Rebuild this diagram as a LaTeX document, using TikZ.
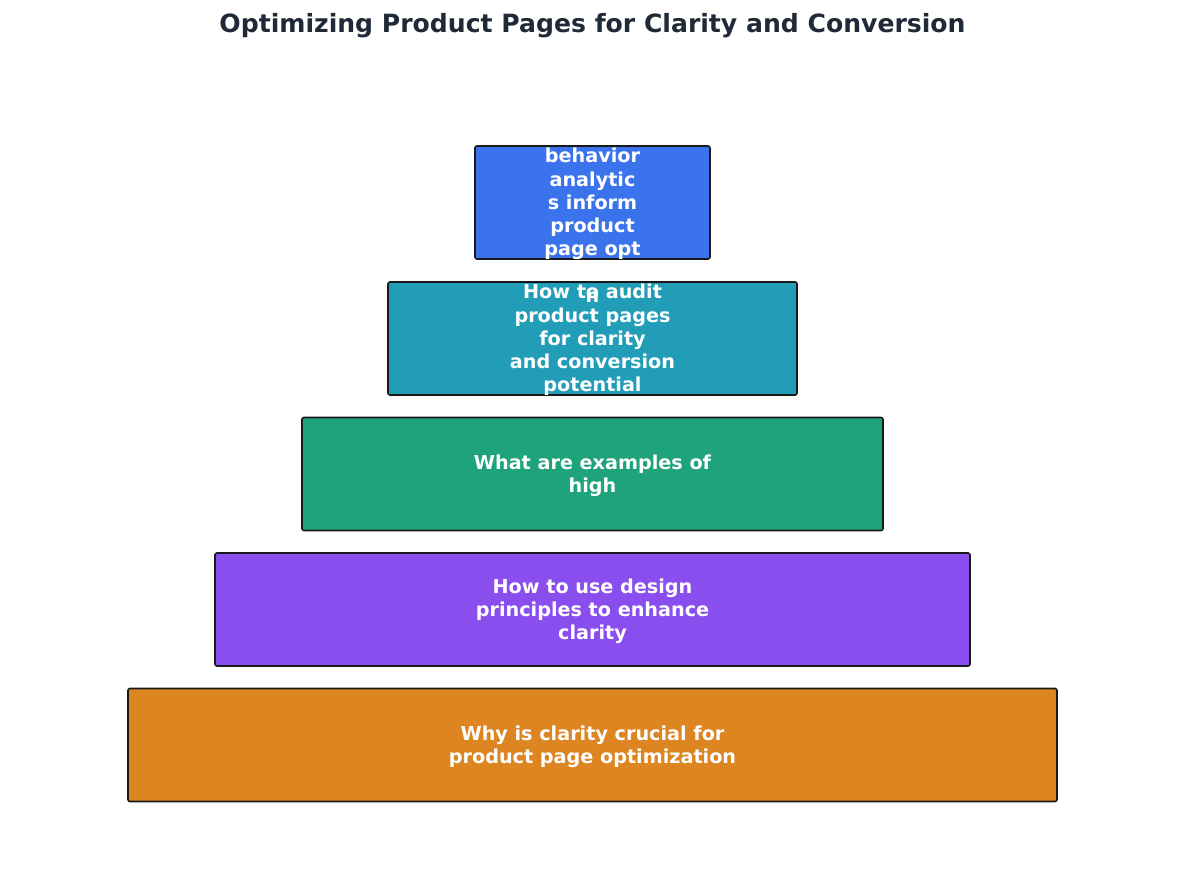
\documentclass[tikz,border=0pt]{standalone}
\usepackage{fontspec}
\setmainfont{DejaVu Sans}
\usepackage{xcolor}
\definecolor{titlecol}{HTML}{1F2937}
\definecolor{lvlA}{HTML}{3B73EC}
\definecolor{lvlB}{HTML}{229DB8}
\definecolor{lvlC}{HTML}{1FA37A}
\definecolor{lvlD}{HTML}{8A4DEE}
\definecolor{lvlE}{HTML}{DD8521}
\tikzset{
  level/.style={draw=black!90, line width=1.6pt, rounded corners=2pt, inner sep=0pt, minimum height=113pt},
  lbl/.style={text=white, font=\fontsize{19.2}{23.2}\selectfont\bfseries, align=center, inner sep=0pt}
}
\begin{document}
\begin{tikzpicture}[x=1pt,y=-1pt]
	\useasboundingbox (0,0) rectangle (1185,882);
	\node [font=\fontsize{25.1}{28}\selectfont\bfseries, text=titlecol] (title) at (592.5,26) {Optimizing Product Pages for Clarity and Conversion};
	% levels, top to bottom
	\node [level, fill=lvlA, minimum width=235pt] (top) at (592.5,202.5) {};
	\node [level, fill=lvlB, minimum width=409pt] (second) at (592.5,338.5) {};
	\node [level, fill=lvlC, minimum width=581pt] (third) at (592.5,474) {};
	\node [level, fill=lvlD, minimum width=755pt] (fourth) at (592.5,609.5) {};
	\node [level, fill=lvlE, minimum width=929pt] (base) at (592.5,745) {};
	% texts
	\node [lbl] (topText) at (592.5,204) {behavior\\analytic\\s inform\\product\\page opt};
	\node [lbl] (topRest) at (592.5,297) {n};
	\node [lbl] (secondText) at (592.5,340) {How to audit\\product pages\\for clarity\\and conversion\\potential};
	\node [lbl] (thirdText) at (592.5,476) {What are examples of\\high};
	\node [lbl] (fourthText) at (592.5,611) {How to use design\\principles to enhance\\clarity};
	\node [lbl] (baseText) at (592.5,746.5) {Why is clarity crucial for\\product page optimization};
\end{tikzpicture}
\end{document}
